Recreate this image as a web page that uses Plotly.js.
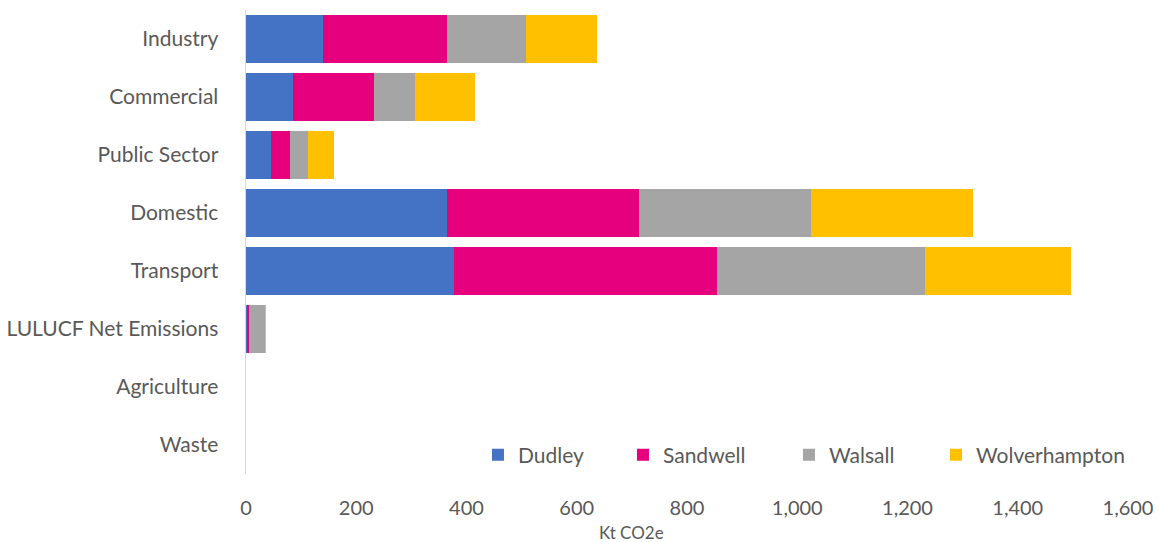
<!DOCTYPE html>
<html>
<head>
<meta charset="utf-8">
<script src="https://cdn.plot.ly/plotly-3.0.1.min.js"></script>
<style>html,body{margin:0;padding:0;background:#fff;}#chart{width:1159px;height:542px;}</style>
</head>
<body>
<div id="chart"></div>
<script>
const categories = ["Industry","Commercial","Public Sector","Domestic","Transport","LULUCF Net Emissions","Agriculture","Waste"];
const dudley        = [140, 85, 45, 365, 377, 1, 0.2, 0.2];
const sandwell      = [225, 147, 34, 348, 477, 5, 0.1, 0.2];
const walsall       = [143, 74, 34, 312, 378, 28, 0.1, 0.1];
const wolverhampton = [129, 109, 47, 294, 265, 3, 0.1, 0.1];
const seriesNames = ["Dudley","Sandwell","Walsall","Wolverhampton"];
const seriesColors = ["#4472C4","#E6007E","#A5A5A5","#FFC000"];
const xTicks = [0,200,400,600,800,1000,1200,1400,1600];
const xTickLabels = ["0","200","400","600","800","1,000","1,200","1,400","1,600"];
const xAxisTitle = "Kt CO2e";

const legendIds = ["legend","legend2","legend3","legend4"];
const legendX = [0.263, 0.4274, 0.6156, 0.7823];

const allSeries = [dudley, sandwell, walsall, wolverhampton];
const traces = allSeries.map((vals, i) => ({
  type: "bar",
  orientation: "h",
  name: seriesNames[i],
  y: categories,
  x: vals,
  legend: legendIds[i],
  marker: {color: seriesColors[i], line: {width: 0}},
  hoverinfo: "x+name"
}));

const font = "Lato, 'Open Sans', sans-serif";
const layout = {
  width: 1159, height: 542,
  margin: {l: 246, r: 31, t: 10, b: 68},
  barmode: "stack",
  bargap: 0.17,
  paper_bgcolor: "#fff",
  plot_bgcolor: "#fff",
  font: {family: font, color: "#595959", size: 19},
  xaxis: {
    range: [0, 1600],
    tickvals: xTicks,
    ticktext: xTickLabels,
    showgrid: false,
    zeroline: false,
    showline: false,
    ticks: "",
    ticklabelstandoff: 20,
    tickfont: {size: 20, color: "#595959"}
  },
  yaxis: {
    categoryorder: "array",
    categoryarray: categories,
    autorange: "reversed",
    showgrid: false,
    zeroline: false,
    showline: true,
    linecolor: "#D9D9D9",
    linewidth: 1.5,
    ticks: "",
    ticklabelstandoff: 22,
    tickfont: {size: 21, color: "#595959"}
  },
  annotations: [{
    text: xAxisTitle,
    xref: "paper", yref: "paper",
    x: 0.4376, y: -0.126,
    xanchor: "center", yanchor: "middle",
    showarrow: false,
    font: {size: 17, color: "#595959"}
  }],
  showlegend: true
};

legendIds.forEach((id, i) => {
  layout[id] = {
    orientation: "h",
    x: legendX[i], xanchor: "left",
    y: 0.041, yanchor: "middle",
    bgcolor: "rgba(0,0,0,0)",
    font: {size: 21, color: "#595959"},
    itemwidth: 30
  };
});

Plotly.newPlot("chart", traces, layout, {displayModeBar: false, staticPlot: true});
</script>
</body>
</html>
